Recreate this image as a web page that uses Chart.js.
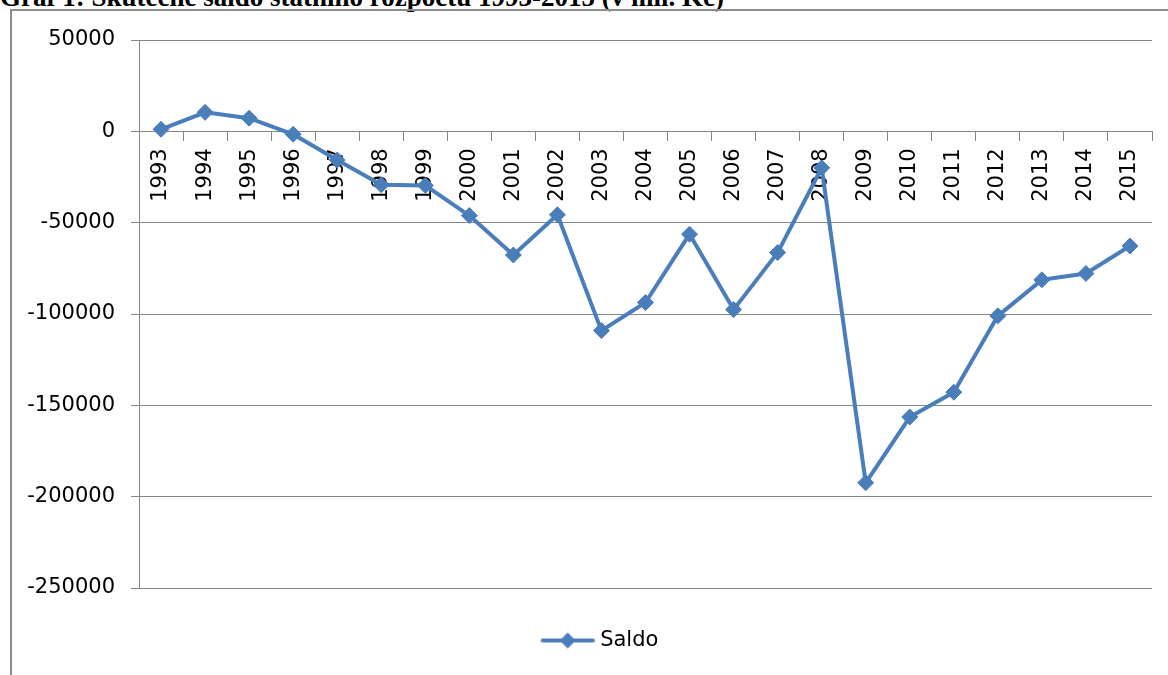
<!DOCTYPE html>
<html><head><meta charset="utf-8">
<script src="https://cdn.jsdelivr.net/npm/chart.js@4"></script>
<style>
html,body{margin:0;padding:0;background:#fff;width:1168px;height:675px;overflow:hidden;position:relative}
#title{position:absolute;left:0;top:-16px;font:bold 27px "Liberation Serif";line-height:27px;white-space:nowrap;color:#000}
#frame{position:absolute;left:10px;top:9px;width:1200px;height:700px;border-left:2px solid #8c8c8c;border-top:2px solid #8c8c8c}
#wrap{position:absolute;left:0;top:0;width:1168px;height:675px}
</style></head>
<body>
<div id="title">Graf 1: Skutečné saldo státního rozpočtu 1993-2015 (v mil. Kč)</div>
<div id="frame"></div>
<div id="wrap"><canvas id="c" width="1168" height="675"></canvas></div>
<script>
const categories = ['1993','1994','1995','1996','1997','1998','1999','2000','2001','2002','2003','2004','2005','2006','2007','2008','2009','2010','2011','2012','2013','2014','2015'];
const saldo = [1100, 10400, 7200, -1600, -15700, -29300, -29600, -46100, -67700, -45700, -109100, -93700, -56300, -97600, -66400, -20000, -192400, -156400, -142800, -101000, -81300, -77800, -62800];
const yTickValues = [50000, 0, -50000, -100000, -150000, -200000, -250000];
const seriesName = 'Saldo';

const BLUE = '#4a7ebb';
const GRID = '#868686';
const FONT = 'DejaVu Sans';

// legend symbol: line with diamond (drawn in the right half of a wider image)
const sym = document.createElement('canvas');
sym.width = 106; sym.height = 20;
(function(){
  const g = sym.getContext('2d');
  g.strokeStyle = BLUE; g.lineWidth = 4; g.lineCap = 'round';
  g.beginPath(); g.moveTo(54, 10); g.lineTo(104, 10); g.stroke();
  g.fillStyle = BLUE;
  g.beginPath(); g.moveTo(79, 2); g.lineTo(87, 10); g.lineTo(79, 18); g.lineTo(71, 10); g.closePath(); g.fill();
})();

new Chart(document.getElementById('c'), {
  type: 'line',
  data: {
    labels: categories,
    datasets: [{
      label: seriesName,
      data: saldo,
      borderColor: BLUE,
      backgroundColor: BLUE,
      borderWidth: 4,
      tension: 0,
      borderJoinStyle: 'round',
      pointStyle: 'rectRot',
      pointRadius: 8,
      pointHoverRadius: 8,
      pointBackgroundColor: BLUE,
      pointBorderColor: BLUE,
      pointBorderWidth: 1,
      clip: false
    }]
  },
  options: {
    responsive: false,
    animation: false,
    devicePixelRatio: 1,
    layout: { padding: { left: 0, right: 16, top: 40, bottom: 14 } },
    plugins: {
      title: { display: false },
      tooltip: { enabled: false },
      legend: {
        position: 'bottom',
        labels: {
          usePointStyle: true,
          pointStyleWidth: 96,
          padding: 42,
          color: '#000',
          font: { family: FONT, size: 21 },
          generateLabels: (chart) => [{
            text: seriesName,
            pointStyle: sym,
            fillStyle: BLUE,
            strokeStyle: BLUE,
            lineWidth: 0,
            hidden: false,
            datasetIndex: 0
          }]
        }
      }
    },
    scales: {
      x: {
        type: 'category',
        position: { y: 0 },
        offset: true,
        grid: { display: true, drawOnChartArea: false, drawTicks: true, tickLength: 9, offset: true, color: GRID, lineWidth: 1 },
        border: { display: true, color: GRID, width: 1 },
        ticks: { autoSkip: false, minRotation: 90, maxRotation: 90, padding: 8, color: '#000', font: { family: FONT, size: 21 } }
      },
      y: {
        min: -250000,
        max: 50000,
        afterBuildTicks: (s) => { s.ticks = yTickValues.map(v => ({ value: v })); },
        afterFit: (s) => { s.width = 139; },
        grid: { color: GRID, lineWidth: 1, drawTicks: true, tickLength: 8 },
        border: { display: true, color: GRID, width: 1 },
        ticks: { padding: 16, color: '#000', font: { family: FONT, size: 21 }, callback: (v) => String(v) }
      }
    }
  }
});
</script>
</body></html>
